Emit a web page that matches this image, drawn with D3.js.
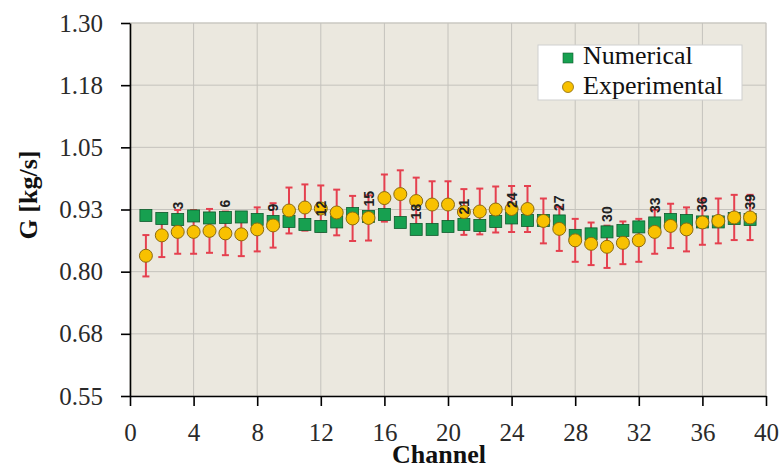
<!DOCTYPE html>
<html>
<head>
<meta charset="utf-8">
<script src="https://cdn.jsdelivr.net/npm/d3@7"></script>
<style>
  html, body { margin: 0; padding: 0; background: #ffffff; }
  svg { display: block; }
  text, .tick text { font-family: "Liberation Serif", "DejaVu Serif", serif !important; }
  text.pt-label { font-family: "Liberation Sans", "DejaVu Sans", sans-serif !important; }
</style>
</head>
<body>
<svg id="chart" width="780" height="470"></svg>
<script>
// Mass flow rate per channel
const channels = d3.range(1, 40);
const numerical = [0.913, 0.907, 0.905, 0.912, 0.908, 0.909, 0.910, 0.905, 0.901, 0.901,
                   0.895, 0.891, 0.900, 0.917, 0.911, 0.915, 0.899, 0.885, 0.885, 0.891,
                   0.895, 0.893, 0.901, 0.908, 0.903, 0.903, 0.902, 0.873, 0.876, 0.880,
                   0.883, 0.890, 0.898, 0.905, 0.903, 0.900, 0.900, 0.907, 0.905];
const experimental = [0.832, 0.873, 0.880, 0.880, 0.882, 0.877, 0.875, 0.885, 0.893, 0.923,
                      0.929, 0.927, 0.919, 0.907, 0.908, 0.948, 0.956, 0.942, 0.935, 0.935,
                      0.920, 0.921, 0.925, 0.926, 0.926, 0.902, 0.886, 0.863, 0.856, 0.850,
                      0.858, 0.863, 0.880, 0.892, 0.885, 0.899, 0.902, 0.909, 0.909];
const errorFraction = 0.05;           // ±5 % measurement uncertainty
const labelledChannels = [3, 6, 9, 12, 15, 18, 21, 24, 27, 30, 33, 36, 39];
const xTicks = [0, 4, 8, 12, 16, 20, 24, 28, 32, 36, 40];
const yTicks = [0.55, 0.675, 0.80, 0.925, 1.05, 1.175, 1.30];
const yTickLabels = ["0.55", "0.68", "0.80", "0.93", "1.05", "1.18", "1.30"];
const seriesNames = ["Numerical", "Experimental"];

const W = 780, H = 470;
const margin = { top: 23, right: 14, bottom: 74, left: 130 };
const iw = W - margin.left - margin.right;
const ih = H - margin.top - margin.bottom;

const colors = {
  plotBg: "#ebe8df",
  grid: "#c4c2bc",
  numFill: "#17a050", numStroke: "#0e5a2c",
  expFill: "#f8c100", expStroke: "#8a6a10",
  err: "#e5404f"
};

const svg = d3.select("#chart");
const g = svg.append("g").attr("transform", `translate(${margin.left},${margin.top})`);

const x = d3.scaleLinear().domain([0, 40]).range([0, iw]);
const y = d3.scaleLinear().domain([0.55, 1.30]).range([ih, 0]);

// plot area
g.append("rect").attr("width", iw).attr("height", ih)
  .attr("fill", colors.plotBg).attr("stroke", "#d6d4ce").attr("stroke-width", 1);

// gridlines
g.append("g").selectAll("line.h").data(yTicks.slice(1)).join("line")
  .attr("x1", 0).attr("x2", iw).attr("y1", d => y(d)).attr("y2", d => y(d))
  .attr("stroke", colors.grid).attr("stroke-width", 1);
g.append("g").selectAll("line.v").data(xTicks.slice(1)).join("line")
  .attr("y1", 0).attr("y2", ih).attr("x1", d => x(d)).attr("x2", d => x(d))
  .attr("stroke", colors.grid).attr("stroke-width", 1);

// axes
const xAxis = d3.axisBottom(x).tickValues(xTicks).tickSize(10).tickSizeOuter(0).tickPadding(17);
const yAxis = d3.axisLeft(y).tickValues(yTicks).tickSize(9).tickSizeOuter(0).tickPadding(18)
  .tickFormat((d, i) => yTickLabels[i]);

const gx = g.append("g").attr("transform", `translate(0,${ih})`).call(xAxis);
const gy = g.append("g").call(yAxis);
[gx, gy].forEach(a => {
  a.attr("font-family", null);
  a.select(".domain").attr("stroke", "#000").attr("stroke-width", 1.6);
  a.selectAll(".tick line").attr("stroke", "#000").attr("stroke-width", 1.6);
  a.selectAll(".tick text").attr("fill", "#2a2a2a").style("font-size", "25px");
});

// axis titles
svg.append("text")
  .attr("x", 439).attr("y", 463)
  .attr("text-anchor", "middle")
  .style("font-size", "26px").style("font-weight", "bold").attr("fill", "#111")
  .text("Channel");
svg.append("text")
  .attr("transform", "translate(37,195) rotate(-90)")
  .attr("text-anchor", "middle")
  .style("font-size", "26px").style("font-weight", "bold").attr("fill", "#111")
  .text("G [kg/s]");

const rows = channels.map((c, i) => ({ c, num: numerical[i], exp: experimental[i] }));

// error bars on measured values
const eb = g.append("g");
rows.forEach(d => {
  const e = d.exp * errorFraction;
  const cx = x(d.c);
  eb.append("line").attr("x1", cx).attr("x2", cx)
    .attr("y1", y(d.exp + e)).attr("y2", y(d.exp - e))
    .attr("stroke", colors.err).attr("stroke-width", 2);
  [d.exp + e, d.exp - e].forEach(v => {
    eb.append("line").attr("x1", cx - 3.5).attr("x2", cx + 3.5)
      .attr("y1", y(v)).attr("y2", y(v))
      .attr("stroke", colors.err).attr("stroke-width", 2);
  });
});

// numerical markers
const sq = 12;
g.append("g").selectAll("rect").data(rows).join("rect")
  .attr("x", d => x(d.c) - sq / 2).attr("y", d => y(d.num) - sq / 2)
  .attr("width", sq).attr("height", sq)
  .attr("fill", colors.numFill).attr("stroke", colors.numStroke).attr("stroke-width", 0.8);

// experimental markers
g.append("g").selectAll("circle").data(rows).join("circle")
  .attr("cx", d => x(d.c)).attr("cy", d => y(d.exp)).attr("r", 6.5)
  .attr("fill", colors.expFill).attr("stroke", colors.expStroke).attr("stroke-width", 1);

// channel number labels
g.append("g").selectAll("text").data(rows.filter(d => labelledChannels.includes(d.c))).join("text")
  .attr("class", "pt-label")
  .attr("transform", d => `translate(${x(d.c) + 5},${y(d.num) - 10}) rotate(-90)`)
  .attr("text-anchor", "start")
  .style("font-size", "14px").style("font-weight", "bold")
  .attr("fill", "#222")
  .text(d => d.c);

// legend
const lg = svg.append("g").attr("transform", "translate(538,45)");
lg.append("rect").attr("width", 204).attr("height", 55)
  .attr("fill", "#ffffff").attr("stroke", "#cfcfcf").attr("stroke-width", 1);
lg.append("rect").attr("x", 25).attr("y", 8).attr("width", 10).attr("height", 10)
  .attr("fill", colors.numFill).attr("stroke", colors.numStroke).attr("stroke-width", 0.6);
lg.append("circle").attr("cx", 30).attr("cy", 42).attr("r", 5.5)
  .attr("fill", colors.expFill).attr("stroke", colors.expStroke).attr("stroke-width", 0.8);
lg.selectAll("text.leg").data(seriesNames).join("text")
  .attr("x", 45).attr("y", (d, i) => 19 + i * 30)
  .style("font-size", "26px").attr("fill", "#111")
  .text(d => d);
</script>
</body>
</html>
